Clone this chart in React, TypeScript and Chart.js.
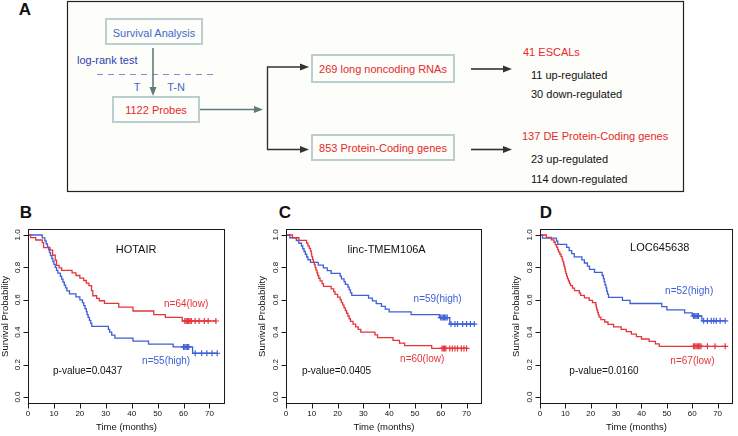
import React, { useEffect, useRef } from 'react';
import { Chart, registerables } from 'chart.js';

Chart.register(...registerables);

// ---------- axis ticks ----------
const X_TICKS = [0, 10, 20, 30, 40, 50, 60, 70];
const X_TICK_LABELS = ['0', '10', '20', '30', '40', '50', '60', '70'];
const Y_TICKS = [0, 0.2, 0.4, 0.6, 0.8, 1.0];
const Y_TICK_LABELS = ['0.0', '0.2', '0.4', '0.6', '0.8', '1.0'];
const X_RANGE = [0, 76];
const Y_RANGE = [-0.04, 1.04];

// ---------- B: HOTAIR ----------
const B_LOW_T = [0, 1, 3, 5.5, 6, 8.5, 9.5, 10.5, 11, 12, 13, 17, 18.5, 20, 21.5, 22.5, 23.5, 24.5, 25, 26.5, 27.5, 29.5, 35, 40.5, 48.5, 53, 59.5];
const B_LOW_S = [1, 0.984, 0.969, 0.953, 0.922, 0.906, 0.875, 0.844, 0.813, 0.797, 0.781, 0.766, 0.75, 0.734, 0.719, 0.703, 0.688, 0.656, 0.625, 0.609, 0.594, 0.578, 0.555, 0.531, 0.508, 0.492, 0.469];
const B_LOW_CENSOR = [60.5, 61, 61.5, 62, 62.5, 63, 64.5, 66, 68, 69.5, 72.5];
const B_HIGH_T = [0, 5.5, 6.5, 7, 7.5, 8, 8.3, 8.7, 9.2, 9.6, 10, 10.5, 11, 11.5, 12.5, 13, 13.5, 14, 14.5, 15, 16, 18.5, 20, 21, 21.5, 22, 22.5, 22.8, 23.2, 23.7, 24.2, 24.6, 31, 31.5, 32.3, 33.5, 40.5, 46.5, 56, 63.5];
const B_HIGH_S = [1, 0.982, 0.964, 0.945, 0.927, 0.909, 0.891, 0.873, 0.855, 0.836, 0.818, 0.8, 0.782, 0.764, 0.745, 0.727, 0.709, 0.691, 0.673, 0.655, 0.636, 0.618, 0.6, 0.582, 0.564, 0.545, 0.527, 0.509, 0.491, 0.473, 0.455, 0.436, 0.418, 0.4, 0.382, 0.364, 0.345, 0.327, 0.309, 0.27];
const B_HIGH_CENSOR = [60, 60.5, 61, 61.5, 62, 64.5, 67, 69, 71, 73];

// ---------- C: linc-TMEM106A ----------
const C_LOW_T = [0, 2.5, 5, 8, 8.5, 9, 9.5, 9.8, 10, 10.3, 10.6, 11, 11.3, 11.6, 12, 12.3, 12.7, 13.2, 14, 14.5, 17.5, 18.5, 19, 20, 21, 21.5, 22, 22.5, 23, 23.5, 24, 24.5, 25, 26, 27, 28, 29, 34.5, 35.5, 41.5, 44, 46, 56.5];
const C_LOW_S = [1, 0.983, 0.967, 0.95, 0.933, 0.917, 0.9, 0.883, 0.867, 0.85, 0.833, 0.817, 0.8, 0.783, 0.767, 0.75, 0.733, 0.717, 0.7, 0.683, 0.667, 0.65, 0.633, 0.617, 0.6, 0.583, 0.567, 0.55, 0.533, 0.517, 0.5, 0.483, 0.467, 0.45, 0.433, 0.417, 0.4, 0.383, 0.367, 0.35, 0.333, 0.317, 0.3];
const C_LOW_CENSOR = [60.5, 61, 61.5, 62, 63.5, 64.5, 65.5, 66.5, 68, 69, 70];
const C_HIGH_T = [0, 1.5, 4, 5, 6, 6.5, 7, 7.5, 8, 8.5, 9.5, 12.5, 14.5, 16, 17.5, 21, 21.5, 22.5, 23, 24, 24.5, 25, 25.5, 32, 33.5, 35, 37, 38.5, 40, 48.5, 59.5, 63.5];
const C_HIGH_S = [1, 0.983, 0.966, 0.949, 0.932, 0.915, 0.898, 0.881, 0.864, 0.847, 0.831, 0.814, 0.797, 0.78, 0.763, 0.746, 0.729, 0.712, 0.695, 0.678, 0.661, 0.644, 0.627, 0.61, 0.593, 0.576, 0.559, 0.542, 0.525, 0.508, 0.49, 0.45];
const C_HIGH_CENSOR = [60, 60.5, 61, 61.5, 62, 62.5, 64, 65.5, 66.5, 68.5, 70, 71.5, 73];

// ---------- D: LOC645638 ----------
const D_LOW_T = [0, 2.5, 4.5, 5.5, 6, 6.5, 7, 7.3, 7.8, 8.3, 8.7, 9, 9.3, 9.5, 9.8, 10, 10.2, 10.5, 10.8, 11.2, 11.6, 12, 12.8, 13.6, 15.5, 16, 17.5, 19.4, 20.7, 22, 22.2, 22.4, 22.7, 23, 23.3, 24, 25.5, 26.8, 29, 32, 34, 36, 38, 40, 43, 45.5, 47];
const D_LOW_S = [1, 0.985, 0.97, 0.955, 0.94, 0.925, 0.91, 0.896, 0.881, 0.866, 0.851, 0.836, 0.821, 0.806, 0.791, 0.776, 0.761, 0.746, 0.731, 0.716, 0.701, 0.687, 0.672, 0.657, 0.642, 0.627, 0.612, 0.597, 0.582, 0.567, 0.552, 0.537, 0.522, 0.507, 0.493, 0.478, 0.463, 0.448, 0.433, 0.418, 0.403, 0.388, 0.373, 0.358, 0.343, 0.328, 0.313];
const D_LOW_CENSOR = [60.5, 61, 61.5, 62, 62.5, 63, 63.5, 66, 69, 73];
const D_HIGH_T = [0, 1, 6.5, 7, 10.5, 11.5, 12.5, 13.5, 16.5, 17.5, 18.7, 19.5, 21.5, 24.5, 25, 25.3, 25.6, 26, 26.3, 26.6, 27, 32.5, 35.5, 48, 50, 57, 60, 63.8];
const D_HIGH_S = [1, 0.981, 0.962, 0.942, 0.923, 0.904, 0.885, 0.865, 0.846, 0.827, 0.808, 0.788, 0.769, 0.75, 0.731, 0.712, 0.692, 0.673, 0.654, 0.635, 0.615, 0.596, 0.577, 0.558, 0.538, 0.519, 0.5, 0.47];
const D_HIGH_CENSOR = [60.5, 61, 61.5, 62, 62.5, 64.5, 66, 67.5, 68.5, 69.5, 71, 73];

const RED = '#e5343a';
const BLUE = '#3d5fd8';
const FONT = '"Liberation Sans", Arial, Helvetica, sans-serif';

type Series = { t: number[]; s: number[]; censor: number[]; color: string };
type Txt = { text: string; x: number; y: number; size: number; color: string };

function survAt(t: number[], s: number[], c: number) {
  let v = s[0];
  for (let i = 0; i < t.length; i++) if (t[i] <= c) v = s[i];
  return v;
}

const kmFrame = {
  id: 'kmFrame',
  afterDraw(chart: any, _args: any, opts: any) {
    const { ctx, chartArea: a } = chart;
    const xs = chart.scales.x;
    const ys = chart.scales.y;
    ctx.save();
    ctx.strokeStyle = '#1a1a1a';
    ctx.lineWidth = 1;
    const L = Math.round(a.left) + 0.5;
    const R = Math.round(a.right) - 0.5;
    const T = Math.round(a.top) + 0.5;
    const B = Math.round(a.bottom) - 0.5;
    ctx.strokeRect(L, T, R - L, B - T);
    ctx.beginPath();
    X_TICKS.forEach((v) => {
      const px = Math.round(xs.getPixelForValue(v)) + 0.5;
      ctx.moveTo(px, B);
      ctx.lineTo(px, B + 5);
    });
    Y_TICKS.forEach((v) => {
      const py = Math.round(ys.getPixelForValue(v)) + 0.5;
      ctx.moveTo(L, py);
      ctx.lineTo(L - 5, py);
    });
    ctx.stroke();
    ctx.fillStyle = '#111';
    ctx.textAlign = 'center';
    ctx.textBaseline = 'middle';
    ctx.font = `8px ${FONT}`;
    X_TICKS.forEach((v, i) => ctx.fillText(X_TICK_LABELS[i], xs.getPixelForValue(v), B + 10));
    Y_TICKS.forEach((v, i) => {
      ctx.save();
      ctx.translate(L - 11, ys.getPixelForValue(v));
      ctx.rotate(-Math.PI / 2);
      ctx.fillText(Y_TICK_LABELS[i], 0, 0);
      ctx.restore();
    });
    ctx.font = `9.5px ${FONT}`;
    ctx.fillText('Time (months)', (L + R) / 2, B + 23.5);
    ctx.save();
    ctx.translate(Math.max(L - 24, 5), (T + B) / 2);
    ctx.rotate(-Math.PI / 2);
    ctx.fillText('Survival Probability', 0, 0);
    ctx.restore();
    (opts.texts || []).forEach((t: Txt) => {
      ctx.font = `${t.size}px ${FONT}`;
      ctx.fillStyle = t.color;
      ctx.fillText(t.text, xs.getPixelForValue(t.x), ys.getPixelForValue(t.y));
    });
    ctx.restore();
  },
};

function KMChart(props: { left: number; width: number; padL: number; padR: number; series: Series[]; texts: Txt[] }) {
  const ref = useRef<HTMLCanvasElement>(null);
  useEffect(() => {
    const datasets: any[] = [];
    props.series.forEach((s) => {
      const pts = s.t.map((t, i) => ({ x: t, y: s.s[i] }));
      const lastC = Math.max(...s.censor);
      if (lastC > s.t[s.t.length - 1]) pts.push({ x: lastC, y: s.s[s.s.length - 1] });
      datasets.push({
        type: 'line',
        data: pts,
        borderColor: s.color,
        borderWidth: 1.3,
        stepped: 'before',
        pointRadius: 0,
        fill: false,
      });
      datasets.push({
        type: 'line',
        showLine: false,
        data: s.censor.map((c) => ({ x: c, y: survAt(s.t, s.s, c) })),
        pointStyle: 'cross',
        pointRadius: 3,
        borderWidth: 1.2,
        borderColor: s.color,
        backgroundColor: s.color,
      });
    });
    const chart = new Chart(ref.current as HTMLCanvasElement, {
      type: 'line',
      data: { datasets },
      options: {
        animation: false,
        responsive: false,
        events: [],
        layout: { padding: { left: props.padL, right: props.padR, top: 6.5, bottom: 32.5 } },
        scales: {
          x: { type: 'linear', min: X_RANGE[0], max: X_RANGE[1], display: false },
          y: { type: 'linear', min: Y_RANGE[0], max: Y_RANGE[1], display: false },
        },
        plugins: {
          legend: { display: false },
          tooltip: { enabled: false },
          kmFrame: { texts: props.texts },
        } as any,
      },
      plugins: [kmFrame],
    } as any);
    return () => chart.destroy();
  }, []);
  return (
    <canvas
      ref={ref}
      width={props.width}
      height={214}
      style={{ position: 'absolute', left: props.left, top: 222, width: props.width, height: 214 }}
    />
  );
}

function Arrow({ x1, y1, x2, y2, color }: { x1: number; y1: number; x2: number; y2: number; color: string }) {
  const dx = x2 - x1;
  const dy = y2 - y1;
  const len = Math.hypot(dx, dy);
  const ux = dx / len;
  const uy = dy / len;
  const hl = 9;
  const hw = 3.5;
  const bx = x2 - ux * hl;
  const by = y2 - uy * hl;
  return (
    <g>
      <line x1={x1} y1={y1} x2={bx} y2={by} stroke={color} strokeWidth={1.6} />
      <polygon
        points={`${x2},${y2} ${bx - uy * hw},${by + ux * hw} ${bx + uy * hw},${by - ux * hw}`}
        fill={color}
      />
    </g>
  );
}

function Flow() {
  const red = '#e52a2a';
  const blue = '#4468cc';
  const boxStroke = '#bccfd0';
  const teal = '#5f7c7c';
  const dark = '#333';
  const t = (x: number, y: number, s: string, color: string, anchor = 'middle', size = 11) => (
    <text x={x} y={y} fill={color} fontSize={size} textAnchor={anchor} dominantBaseline="central">
      {s}
    </text>
  );
  return (
    <svg width={738} height={436} style={{ position: 'absolute', left: 0, top: 0 }} fontFamily={FONT}>
      <rect x={67.5} y={1.5} width={616} height={190} fill="#fdfdf9" stroke="#222" strokeWidth={1.2} />
      <rect x={106} y={19} width={96} height={25} fill="none" stroke={boxStroke} strokeWidth={2} />
      {t(154, 32.5, 'Survival Analysis', blue)}
      {t(77, 60, 'log-rank test', '#2f3fb0', 'start')}
      <line x1={97} y1={74.5} x2={217} y2={74.5} stroke="#7d8fd6" strokeWidth={1} strokeDasharray="6 5" />
      <Arrow x1={153} y1={48} x2={153} y2={96} color={teal} />
      {t(137, 86.5, 'T', blue)}
      {t(176, 86.5, 'T-N', blue)}
      <rect x={113} y={97} width={86} height={25} fill="none" stroke={boxStroke} strokeWidth={2} />
      {t(156, 110, '1122 Probes', red)}
      <Arrow x1={200} y1={109.5} x2={263} y2={109.5} color={teal} />
      <line x1={267.5} y1={66.5} x2={267.5} y2={150} stroke={dark} strokeWidth={1.4} />
      <Arrow x1={267} y1={67} x2={309} y2={67} color={dark} />
      <Arrow x1={267} y1={149.5} x2={309} y2={149.5} color={dark} />
      <rect x={312} y={55} width={142} height={27} fill="none" stroke={boxStroke} strokeWidth={2} />
      {t(383, 69, '269 long noncoding RNAs', red)}
      <rect x={312} y={135} width={142} height={25} fill="none" stroke={boxStroke} strokeWidth={2} />
      {t(383, 148, '853 Protein-Coding genes', red)}
      <Arrow x1={471} y1={69} x2={512} y2={69} color={dark} />
      <Arrow x1={471} y1={149.5} x2={512} y2={149.5} color={dark} />
      {t(523, 52, '41 ESCALs', red, 'start')}
      {t(531, 74.5, '11 up-regulated', '#111', 'start')}
      {t(531, 94, '30 down-regulated', '#111', 'start')}
      {t(522, 136, '137 DE Protein-Coding genes', red, 'start')}
      {t(531, 159, '23 up-regulated', '#111', 'start')}
      {t(531, 179, '114 down-regulated', '#111', 'start')}
      <text x={25} y={9.5} fontSize={17} fontWeight="bold" textAnchor="middle" dominantBaseline="central" fill="#111">A</text>
      <text x={26} y={212} fontSize={17} fontWeight="bold" textAnchor="middle" dominantBaseline="central" fill="#111">B</text>
      <text x={285} y={212} fontSize={17} fontWeight="bold" textAnchor="middle" dominantBaseline="central" fill="#111">C</text>
      <text x={546} y={212} fontSize={17} fontWeight="bold" textAnchor="middle" dominantBaseline="central" fill="#111">D</text>
    </svg>
  );
}

export default function App() {
  return (
    <div style={{ position: 'fixed', left: 0, top: 0, width: 738, height: 436, background: '#fff', overflow: 'hidden' }}>
      <Flow />
      <KMChart
        left={0}
        width={250}
        padL={28}
        padR={25}
        series={[
          { t: B_LOW_T, s: B_LOW_S, censor: B_LOW_CENSOR, color: RED },
          { t: B_HIGH_T, s: B_HIGH_S, censor: B_HIGH_CENSOR, color: BLUE },
        ]}
        texts={[
          { text: 'HOTAIR', x: 41.7, y: 0.907, size: 11, color: '#111' },
          { text: 'n=64(low)', x: 61, y: 0.574, size: 10, color: RED },
          { text: 'n=55(high)', x: 53.3, y: 0.218, size: 10, color: BLUE },
          { text: 'p-value=0.0437', x: 23, y: 0.156, size: 10, color: '#111' },
        ]}
      />
      <KMChart
        left={250}
        width={250}
        padL={36}
        padR={18}
        series={[
          { t: C_LOW_T, s: C_LOW_S, censor: C_LOW_CENSOR, color: RED },
          { t: C_HIGH_T, s: C_HIGH_S, censor: C_HIGH_CENSOR, color: BLUE },
        ]}
        texts={[
          { text: 'linc-TMEM106A', x: 39, y: 0.907, size: 11, color: '#111' },
          { text: 'n=59(high)', x: 58.8, y: 0.605, size: 10, color: BLUE },
          { text: 'n=60(low)', x: 52.8, y: 0.235, size: 10, color: RED },
          { text: 'p-value=0.0405', x: 19.6, y: 0.156, size: 10, color: '#111' },
        ]}
      />
      <KMChart
        left={500}
        width={238}
        padL={40}
        padR={2}
        series={[
          { t: D_LOW_T, s: D_LOW_S, censor: D_LOW_CENSOR, color: RED },
          { t: D_HIGH_T, s: D_HIGH_S, censor: D_HIGH_CENSOR, color: BLUE },
        ]}
        texts={[
          { text: 'LOC645638', x: 47.2, y: 0.92, size: 11, color: '#111' },
          { text: 'n=52(high)', x: 58.8, y: 0.65, size: 10, color: BLUE },
          { text: 'n=67(low)', x: 60.1, y: 0.218, size: 10, color: RED },
          { text: 'p-value=0.0160', x: 25.2, y: 0.156, size: 10, color: '#111' },
        ]}
      />
    </div>
  );
}
